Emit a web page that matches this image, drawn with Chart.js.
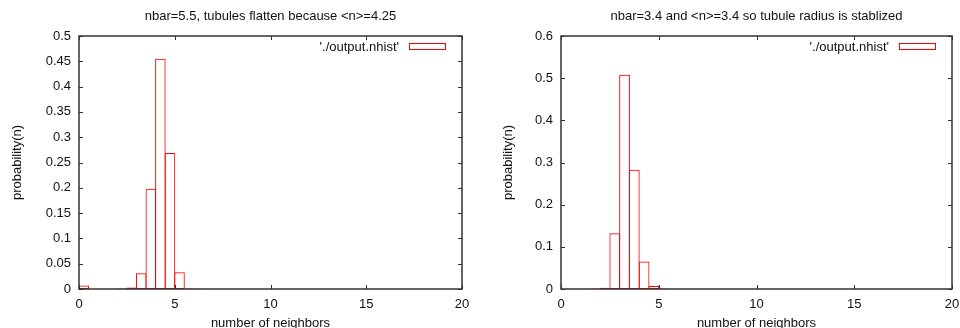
<!DOCTYPE html>
<html lang="en">
<head>
    <meta charset="UTF-8">
    <title>Neighbor histograms</title>
    <script src="https://cdn.jsdelivr.net/npm/chart.js"></script>
    <style>
        body { margin: 0; background: #fff; }
        .panel { position: absolute; top: 0; width: 480px; height: 328px; }
        #leftPanel { left: 0; }
        #rightPanel { left: 480px; }
    </style>
</head>
<body>
    <div class="panel" id="leftPanel"><canvas id="leftChart"></canvas></div>
    <div class="panel" id="rightPanel"><canvas id="rightChart"></canvas></div>
    <script>
        // histogram bin centres (bin width 0.5) and probabilities
        var leftBins = [0.25, 2.25, 2.75, 3.25, 3.75, 4.25, 4.75, 5.25, 5.75, 6.25];
        var leftProb = [0.007, 0.001, 0.003, 0.031, 0.198, 0.455, 0.269, 0.033, 0.001, 0.0005];
        var rightBins = [1.75, 2.25, 2.75, 3.25, 3.75, 4.25, 4.75, 5.25];
        var rightProb = [0.001, 0.003, 0.132, 0.508, 0.283, 0.065, 0.007, 0.001];

        var xTicks = [0, 5, 10, 15, 20];
        var leftYTicks = [0, 0.05, 0.1, 0.15, 0.2, 0.25, 0.3, 0.35, 0.4, 0.45, 0.5];
        var rightYTicks = [0, 0.1, 0.2, 0.3, 0.4, 0.5, 0.6];

        var leftTitle = 'nbar=5.5, tubules flatten because <n>=4.25';
        var rightTitle = 'nbar=3.4 and <n>=3.4 so tubule radius is stablized';
        var seriesLabel = "'./output.nhist'";

        Chart.defaults.font.family = '"Liberation Sans", Arial, sans-serif';
        Chart.defaults.font.size = 13;
        Chart.defaults.color = '#111';

        // gnuplot style: closed frame, inward ticks on all sides, title and key inside
        var gnuFrame = {
            id: 'gnuFrame',
            afterDatasetsDraw: function(chart, args, opts) {
                var ctx = chart.ctx, a = chart.chartArea;
                var x = chart.scales.x, y = chart.scales.y;
                ctx.save();
                ctx.strokeStyle = '#333';
                ctx.lineWidth = 1.5;
                ctx.strokeRect(a.left, a.top, a.right - a.left, a.bottom - a.top);
                ctx.lineWidth = 1;
                ctx.beginPath();
                x.ticks.forEach(function(t) {
                    var px = Math.round(x.getPixelForValue(t.value)) + 0.5;
                    ctx.moveTo(px, a.bottom); ctx.lineTo(px, a.bottom - 4);
                    ctx.moveTo(px, a.top); ctx.lineTo(px, a.top + 4);
                });
                y.ticks.forEach(function(t) {
                    var py = Math.round(y.getPixelForValue(t.value)) + 0.5;
                    ctx.moveTo(a.left, py); ctx.lineTo(a.left + 4, py);
                    ctx.moveTo(a.right, py); ctx.lineTo(a.right - 4, py);
                });
                ctx.stroke();

                ctx.fillStyle = '#111';
                ctx.font = '13px "Liberation Sans", Arial, sans-serif';
                ctx.textAlign = 'center';
                ctx.textBaseline = 'alphabetic';
                ctx.fillText(opts.text, (a.left + a.right) / 2, 20);

                var ds = chart.data.datasets[0];
                ctx.textAlign = 'right';
                ctx.fillText(ds.label, a.right - 63, a.top + 14.5);
                ctx.strokeStyle = ds.borderColor;
                ctx.strokeRect(a.right - 52.5, a.top + 7.5, 36, 6);
                ctx.restore();
            }
        };

        function makeChart(id, bins, probs, yTicks, titleText, yWidth, rightPad, yTitlePad) {
            var ctx = document.getElementById(id).getContext('2d');
            return new Chart(ctx, {
                type: 'bar',
                data: {
                    datasets: [{
                        label: seriesLabel,
                        data: bins.map(function(b, i) { return { x: b, y: probs[i] }; }),
                        borderColor: '#ff0000',
                        backgroundColor: 'rgba(255,255,255,0)',
                        borderWidth: 1,
                        borderSkipped: false,
                        barPercentage: 1.1,
                        categoryPercentage: 1
                    }]
                },
                options: {
                    responsive: true,
                    maintainAspectRatio: false,
                    animation: false,
                    layout: { padding: { left: 0, top: 36, right: rightPad, bottom: 0 } },
                    plugins: {
                        legend: { display: false },
                        tooltip: { enabled: false },
                        gnuFrame: { text: titleText }
                    },
                    scales: {
                        x: {
                            type: 'linear',
                            min: 0,
                            max: 20,
                            offset: false,
                            grid: { display: false, drawTicks: false },
                            border: { display: false },
                            afterBuildTicks: function(s) { s.ticks = xTicks.map(function(v) { return { value: v }; }); },
                            ticks: { padding: 8, maxRotation: 0, autoSkip: false, color: '#111' },
                            title: { display: true, text: 'number of neighbors', color: '#111', padding: { top: 0, bottom: -3 } },
                            afterFit: function(s) { s.height = 39; s.paddingLeft = 0; s.paddingRight = 0; }
                        },
                        y: {
                            min: 0,
                            max: yTicks[yTicks.length - 1],
                            grid: { display: false, drawTicks: false },
                            border: { display: false },
                            afterBuildTicks: function(s) { s.ticks = yTicks.map(function(v) { return { value: v }; }); },
                            ticks: { padding: 8, color: '#111', callback: function(v) { return String(v); } },
                            title: { display: true, text: 'probability(n)', color: '#111', padding: { top: yTitlePad, bottom: 0 } },
                            afterFit: function(s) { s.width = yWidth; s.paddingTop = 0; s.paddingBottom = 0; }
                        }
                    }
                },
                plugins: [gnuFrame]
            });
        }

        makeChart('leftChart', leftBins, leftProb, leftYTicks, leftTitle, 79, 18, 10);
        makeChart('rightChart', rightBins, rightProb, rightYTicks, rightTitle, 81, 8, 21);
    </script>
</body>
</html>
